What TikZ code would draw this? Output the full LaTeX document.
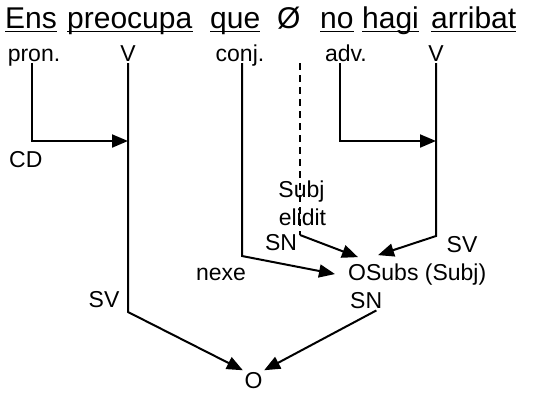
\documentclass[tikz,border=0pt]{standalone}
\usepackage{fontspec}
\setmainfont{Liberation Sans}
\usetikzlibrary{arrows.meta}
\begin{document}
\begin{tikzpicture}
[x=1pt,y=-1pt,
  worddecorate/.style={anchor=base west,inner sep=0pt,font=\fontsize{30}{33}\selectfont},%
  labeldecorate/.style={anchor=base,inner sep=0pt,font=\fontsize{23}{25}\selectfont},%
  dashdecorate/.style={-,line width=1.5pt,dash pattern=on 7pt off 5pt},%
  arrowdecorate/.style={-{Triangle[length=16pt,width=13pt]},line width=2pt}]
\useasboundingbox (0,0) rectangle (538,392);
%% words of the sentence
\foreach \nodename/\word/\x in {ens/Ens/5, preocupa/preocupa/67, que/que/210,
  no/no/320, hagi/hagi/362, arribat/arribat/431} {
  \node (\nodename) at (\x,28) [worddecorate] {\word};
  \draw[line width=1.4pt] ([yshift=-3.5pt]\nodename.base west) -- ([yshift=-3.5pt]\nodename.base east);
}
\node (zero) at (277,28) [worddecorate] {Ø};
%% word classes
\foreach \nodename/\text/\x in {pron/pron./34, verb1/V/128, conj/conj./240,
  adv/adv./346, verb2/V/436} {
  \node (\nodename) at (\x,61) [labeldecorate] {\text};
}
%% functions
\node (cd) at (9,167) [labeldecorate,anchor=base west] {CD};
\node (subj) at (301.5,197) [labeldecorate] {Subj};
\node (elidit) at (302.5,225) [labeldecorate] {elidit};
\node (sn1) at (281,250) [labeldecorate] {SN};
\node (sv2) at (462,252) [labeldecorate] {SV};
\node (nexe) at (221,280) [labeldecorate] {nexe};
\node (osubs) at (335,280) [labeldecorate,anchor=base west,inner xsep=13pt,inner ysep=2pt] {OSubs (Subj)};
\node (sv1) at (104,307) [labeldecorate] {SV};
\node (sn2) at (348,308) [labeldecorate,anchor=base west,inner sep=2pt] {SN};
\node (o) at (253.5,388) [labeldecorate,inner sep=1.5pt] {O};
%% bends
\coordinate (cdtip) at (128,141);
\coordinate (advtip) at (436,141);
\coordinate (verb1end) at (128,312);
\coordinate (conjend) at (242,256);
\coordinate (zerotop) at (300,63);
\coordinate (zeroend) at (300,235);
\coordinate (verb2end) at (436,236);
%% edges or lines
\draw[arrowdecorate] ([xshift=-2pt,yshift=-2pt]pron.base) |- (cdtip);
\draw[arrowdecorate] ([xshift=-6pt,yshift=-2pt]adv.base) |- (advtip);
\draw[arrowdecorate] ([yshift=-2pt]verb1.base) -- (verb1end) -- (o.north west);
\draw[arrowdecorate] ([xshift=2pt,yshift=-2pt]conj.base) -- (conjend) -- (osubs.west);
\draw[dashdecorate] (zerotop) -- (zeroend);
\draw[arrowdecorate] (zeroend) -- ([shift={(23,-4)}]osubs.north west);
\draw[arrowdecorate] ([yshift=-2pt]verb2.base) -- (verb2end) -- ([shift={(43,-6)}]osubs.north west);
\draw[arrowdecorate] ([xshift=-8pt]sn2.south east) -- (o.north east);
\end{tikzpicture}
\end{document}
